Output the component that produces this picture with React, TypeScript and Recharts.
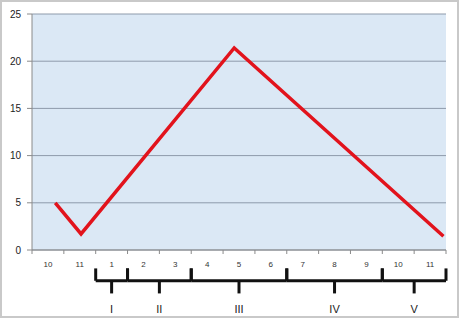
import { CartesianGrid, Line, LineChart, ReferenceDot, ReferenceLine, XAxis, YAxis } from "recharts";

// months shown under the axis, one per slot
const MONTHS = ["10", "11", "1", "2", "3", "4", "5", "6", "7", "8", "9", "10", "11"];
// curve points, x in slot units from the left edge
const CURVE_X = [0.73, 1.54, 6.35, 12.92];
const CURVE_Y = [5, 1.7, 21.4, 1.45];
const Y_TICKS = [0, 5, 10, 15, 20, 25];
// period braces below the months
const PERIODS = ["I", "II", "III", "IV", "V"];
const PERIOD_FROM = [2, 3, 5, 8, 11];
const PERIOD_TO = [3, 5, 8, 11, 13];

const data = CURVE_X.map((x, i) => ({ x, y: CURVE_Y[i] }));
const boundaryTicks = MONTHS.map((_, i) => i).concat(MONTHS.length);
const centerTicks = MONTHS.map((_, i) => i + 0.5);

// brace levels (value units, below zero)
const BRACE_BAR = -3.26;
const BRACE_END = -1.95;
const BRACE_TIP = -4.6;
const LABEL_AT = -6.3;

const INK = "#111";

export default function App() {
  return (
    <div style={{ position: "absolute", left: 0, top: 0, width: 459, height: 318, background: "#fff" }}>
      <LineChart
        width={459}
        height={318}
        data={data}
        margin={{ top: 14, right: 13, left: 2, bottom: 44 }}
        style={{ fontFamily: "'Liberation Sans', Arial, sans-serif" }}
      >
        <CartesianGrid
          xAxisId="grid"
          vertical={false}
          fill="#dbe8f5"
          fillOpacity={1}
          stroke="#8e9aab"
          strokeWidth={1}
        />
        <XAxis
          xAxisId="grid"
          type="number"
          dataKey="x"
          domain={[0, MONTHS.length]}
          allowDataOverflow
          ticks={boundaryTicks}
          tickFormatter={() => ""}
          tickSize={4}
          tickMargin={0}
          height={4}
          interval={0}
          axisLine={{ stroke: "#8a8a8a" }}
          tickLine={{ stroke: "#8a8a8a" }}
        />
        <XAxis
          xAxisId="months"
          type="number"
          dataKey="x"
          domain={[0, MONTHS.length]}
          allowDataOverflow
          ticks={centerTicks}
          tickFormatter={(v: number) => MONTHS[Math.floor(v)]}
          tick={{ fontSize: 8, fill: "#333" }}
          tickSize={0}
          tickMargin={7}
          height={20}
          axisLine={false}
          tickLine={false}
          interval={0}
        />
        <YAxis
          domain={[0, 25]}
          ticks={Y_TICKS}
          width={30}
          tick={{ fontSize: 10, fill: "#222" }}
          tickSize={5}
          tickMargin={6}
          axisLine={{ stroke: "#8a8a8a" }}
          tickLine={{ stroke: "#8a8a8a" }}
        />
        {PERIODS.map((p, i) => {
          const from = PERIOD_FROM[i];
          const to = PERIOD_TO[i];
          const mid = (from + to) / 2;
          return [
            <ReferenceLine
              key={p + "bar"}
              xAxisId="grid"
              ifOverflow="visible"
              segment={[{ x: from, y: BRACE_BAR }, { x: to, y: BRACE_BAR }]}
              stroke={INK}
              strokeWidth={3}
            />,
            <ReferenceLine
              key={p + "l"}
              xAxisId="grid"
              ifOverflow="visible"
              segment={[{ x: from, y: BRACE_BAR }, { x: from, y: BRACE_END }]}
              stroke={INK}
              strokeWidth={3}
            />,
            <ReferenceLine
              key={p + "r"}
              xAxisId="grid"
              ifOverflow="visible"
              segment={[{ x: to, y: BRACE_BAR }, { x: to, y: BRACE_END }]}
              stroke={INK}
              strokeWidth={3}
            />,
            <ReferenceLine
              key={p + "tip"}
              xAxisId="grid"
              ifOverflow="visible"
              segment={[{ x: mid, y: BRACE_BAR }, { x: mid, y: BRACE_TIP }]}
              stroke={INK}
              strokeWidth={3}
            />,
            <ReferenceDot
              key={p + "lbl"}
              xAxisId="grid"
              ifOverflow="visible"
              x={mid}
              y={LABEL_AT}
              r={0}
              stroke="none"
              fill="none"
              label={{ value: p, position: "center", fontSize: 11, fill: "#222" }}
            />,
          ];
        })}
        <Line
          xAxisId="grid"
          type="linear"
          dataKey="y"
          stroke="#e2131c"
          strokeWidth={3.5}
          dot={false}
          isAnimationActive={false}
        />
      </LineChart>
      <div
        style={{
          position: "absolute",
          inset: 0,
          border: "2px solid #c9c9c9",
          pointerEvents: "none",
        }}
      />
    </div>
  );
}
